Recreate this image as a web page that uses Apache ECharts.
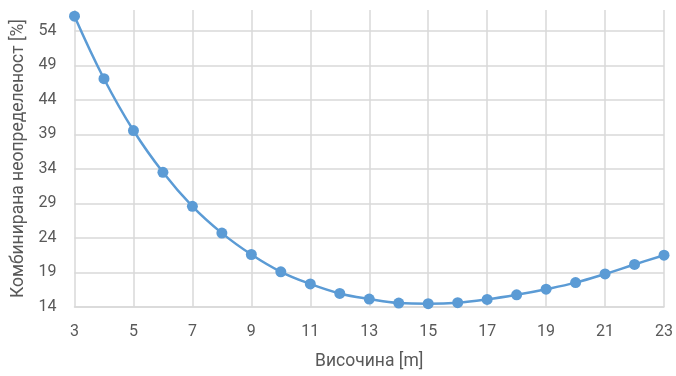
<!DOCTYPE html>
<html><head><meta charset="utf-8">
<script src="https://cdn.jsdelivr.net/npm/echarts@6/dist/echarts.min.js"></script>
<style>html,body{margin:0;padding:0;background:#fff}#c{width:676px;height:376px}</style>
</head><body><div id="c"></div>
<script>
const heights = ['3','4','5','6','7','8','9','10','11','12','13','14','15','16','17','18','19','20','21','22','23'];
const uncertainty = [56.1,47.05,39.55,33.5,28.57,24.7,21.6,19.1,17.34,15.96,15.15,14.57,14.48,14.62,15.1,15.77,16.58,17.53,18.78,20.16,21.5];
const xTitle = 'Височина [m]';
const yTitle = 'Комбинирана неопределеност [%]';
const yMin = 14, yMax = 57, yStep = 5;

const chart = echarts.init(document.getElementById('c'), null, {renderer:'canvas'});
const font = 'Roboto';
chart.setOption({
  animation:false,
  grid:{left:74.5,right:10,top:10,bottom:66},
  xAxis:{
    type:'category', data:heights, boundaryGap:false,
    name:xTitle, nameLocation:'middle', nameGap:46,
    nameTextStyle:{color:'#595959',fontSize:17.5,fontFamily:font},
    axisLine:{lineStyle:{color:'#d9d9d9',width:1.5}},
    axisTick:{show:false},
    axisLabel:{interval:1,color:'#595959',fontSize:16,fontFamily:font,margin:17},
    splitLine:{show:true,interval:1,lineStyle:{color:'#d9d9d9',width:1.5}}
  },
  yAxis:{
    type:'value', min:yMin, max:yMax, interval:yStep,
    name:yTitle, nameLocation:'middle', nameGap:47,
    nameTextStyle:{color:'#595959',fontSize:17.5,fontFamily:font},
    axisLine:{show:false}, axisTick:{show:false},
    axisLabel:{color:'#595959',fontSize:16,fontFamily:font,margin:18,showMaxLabel:false},
    splitLine:{show:true,showMaxLine:false,lineStyle:{color:'#d9d9d9',width:1.5}}
  },
  series:[{
    type:'line', data:uncertainty, smooth:0.4,
    symbol:'circle', symbolSize:11,
    lineStyle:{color:'#5b9bd5',width:2.5},
    itemStyle:{color:'#5b9bd5'}
  }]
});
</script></body></html>
